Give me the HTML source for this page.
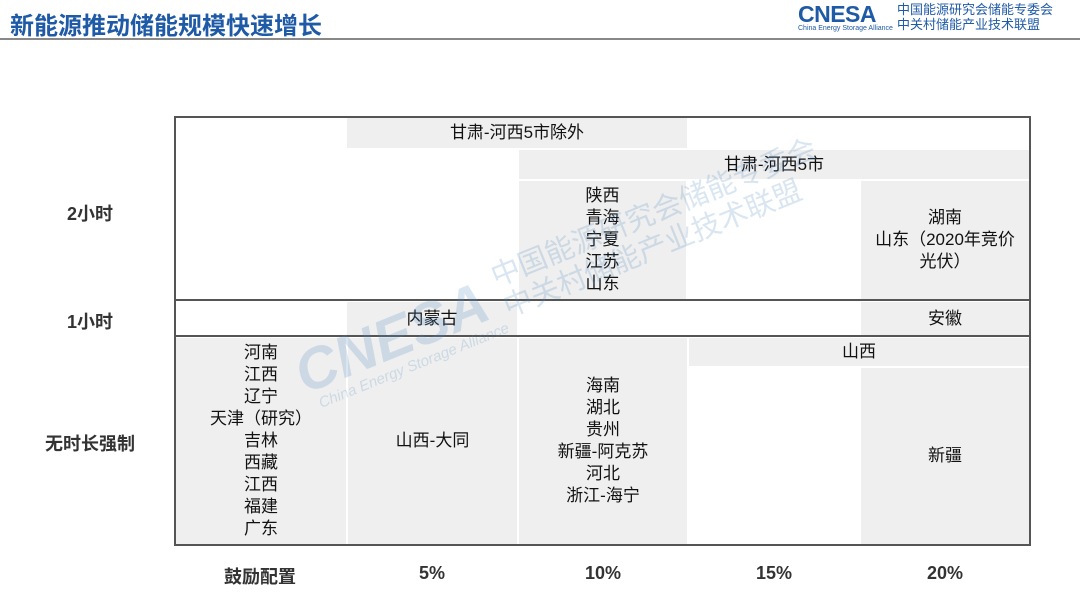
<!DOCTYPE html>
<html><head><meta charset="utf-8"><style>
body{margin:0;width:1080px;height:607px;background:#fff;position:relative;overflow:hidden;font-family:"Liberation Sans","Noto Sans CJK SC",sans-serif;}
.a{position:absolute}
.c{position:absolute;background:#efefef;display:flex;align-items:center;justify-content:center;text-align:center;font-size:17px;line-height:22px;color:#111}
.l{position:absolute;font-size:18px;font-weight:bold;color:#333;text-align:center}
.b{position:absolute;background:#555}
</style></head><body>
<div class="a" style="left:10px;top:6px;font-size:24px;font-weight:bold;color:#1f5aa6;font-family:'Noto Sans CJK SC',sans-serif">新能源推动储能规模快速增长</div>
<div class="a" style="left:798px;top:1px;font-size:23px;font-weight:bold;color:#1f5aa6;letter-spacing:-0.5px">CNESA</div>
<div class="a" style="left:798px;top:25px;font-size:7px;color:#1f5aa6">China Energy Storage Alliance</div>
<div class="a" style="left:897px;top:1px;font-size:13px;line-height:15px;color:#1f5aa6;font-family:'Noto Sans CJK SC',sans-serif">中国能源研究会储能专委会<br>中关村储能产业技术联盟</div>
<div class="a" style="left:0;top:38px;width:1080px;height:2px;background:#888"></div>

<div class="c" style="left:347px;top:118px;width:340px;height:30px">甘肃-河西5市除外</div>
<div class="c" style="left:519px;top:150px;width:510px;height:29px">甘肃-河西5市</div>
<div class="c" style="left:519px;top:181px;width:167px;height:118px">陕西<br>青海<br>宁夏<br>江苏<br>山东</div>
<div class="c" style="left:861px;top:181px;width:168px;height:118px">湖南<br>山东（2020年竞价<br>光伏）</div>
<div class="c" style="left:347px;top:302px;width:170px;height:33px">内蒙古</div>
<div class="c" style="left:861px;top:302px;width:168px;height:33px">安徽</div>
<div class="c" style="left:176px;top:338px;width:170px;height:206px">河南<br>江西<br>辽宁<br>天津（研究）<br>吉林<br>西藏<br>江西<br>福建<br>广东</div>
<div class="c" style="left:348px;top:338px;width:169px;height:206px">山西-大同</div>
<div class="c" style="left:519px;top:338px;width:168px;height:206px">海南<br>湖北<br>贵州<br>新疆-阿克苏<br>河北<br>浙江-海宁</div>
<div class="c" style="left:689px;top:338px;width:340px;height:28px">山西</div>
<div class="c" style="left:861px;top:368px;width:168px;height:176px">新疆</div>

<div class="b" style="left:174px;top:116px;width:857px;height:2px"></div>
<div class="b" style="left:174px;top:544px;width:857px;height:2px"></div>
<div class="b" style="left:174px;top:116px;width:2px;height:430px"></div>
<div class="b" style="left:1029px;top:116px;width:2px;height:430px"></div>
<div class="b" style="left:174px;top:299px;width:857px;height:2px"></div>
<div class="b" style="left:174px;top:335px;width:857px;height:2px"></div>

<div class="a" style="left:285px;top:345px;transform:rotate(-22deg);transform-origin:left top;color:rgba(80,140,190,0.22);white-space:nowrap">
<div style="font-size:58px;font-weight:bold;font-style:italic;display:inline-block">CNESA</div>
<div style="display:inline-block;font-size:29px;line-height:33px;vertical-align:top;margin-left:10px">中国能源研究会储能专委会<br>中关村储能产业技术联盟</div>
<div style="font-size:15px;font-style:italic;margin-top:-8px;margin-left:10px">China Energy Storage Alliance</div>
</div>

<div class="l" style="left:50px;top:200px;width:80px">2小时</div>
<div class="l" style="left:50px;top:308px;width:80px">1小时</div>
<div class="l" style="left:30px;top:430px;width:120px">无时长强制</div>
<div class="l" style="left:190px;top:563px;width:140px">鼓励配置</div>
<div class="l" style="left:372px;top:563px;width:120px">5%</div>
<div class="l" style="left:543px;top:563px;width:120px">10%</div>
<div class="l" style="left:714px;top:563px;width:120px">15%</div>
<div class="l" style="left:885px;top:563px;width:120px">20%</div>
</body></html>
